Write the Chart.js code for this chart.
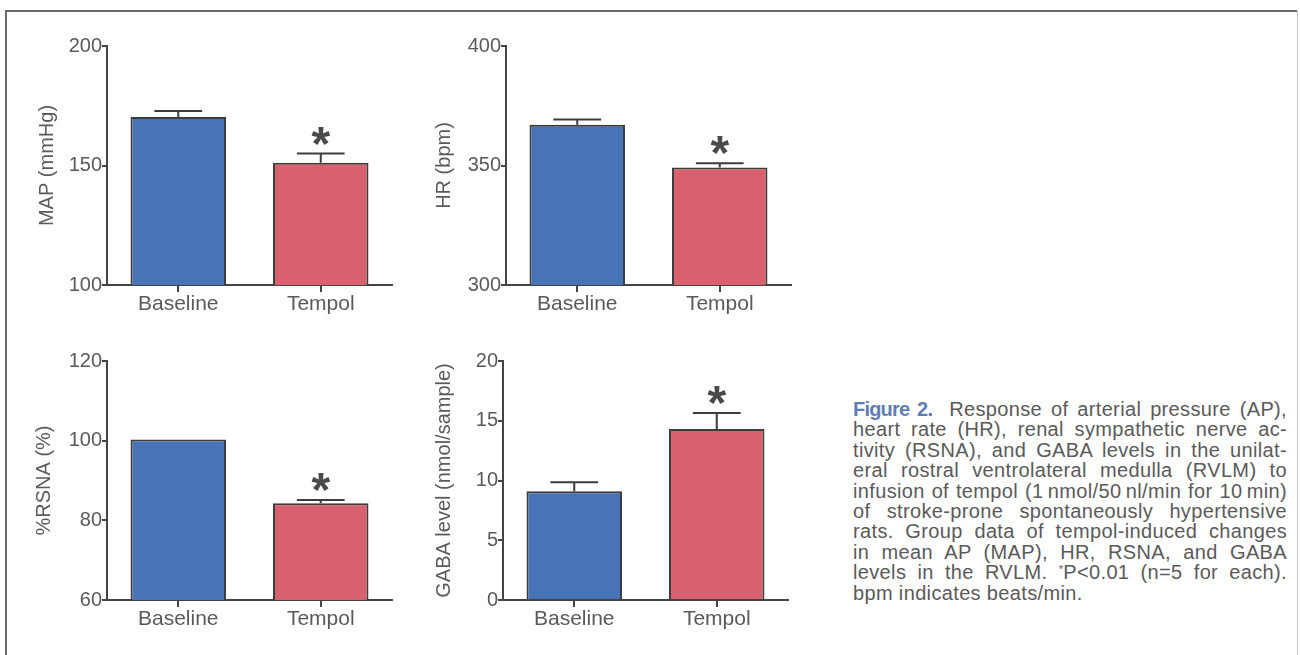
<!DOCTYPE html>
<html>
<head>
<meta charset="utf-8">
<script src="https://cdn.jsdelivr.net/npm/chart.js@4.4.1/dist/chart.umd.min.js"></script>
<style>
  body { margin: 0; background: #fff; }
  #page { position: relative; width: 1300px; height: 655px; overflow: hidden;
          font-family: Arial, "Liberation Sans", sans-serif; }
  .frame { position: absolute; background: #6a6a6a; }
  .panel { position: absolute; }
  #caption { position: absolute; left: 853px; top: 399px; width: 434px;
             font-size: 20px; letter-spacing: 0.35px; line-height: 20.4px; color: #5a5a5a; }
  #caption div { white-space: nowrap; text-align: justify; text-align-last: justify; }
  #caption div.last { text-align-last: left; }
  #caption b { color: #5f7db5; font-size: 20px; letter-spacing: -0.8px;
               font-weight: bold; margin-right: 8px; }
  #caption sup { font-size: 11px; vertical-align: 6px; line-height: 0; }
</style>
</head>
<body>
<div id="page">
  <div class="frame" style="left:5px;top:10px;width:1293px;height:2px"></div>
  <div class="frame" style="left:5px;top:10px;width:2px;height:645px"></div>
  <div class="frame" style="left:1297px;top:10px;width:1px;height:645px;background:#c8c8c8"></div>

  <div class="panel" id="p-map"><canvas id="c-map"></canvas></div>
  <div class="panel" id="p-hr"><canvas id="c-hr"></canvas></div>
  <div class="panel" id="p-rsna"><canvas id="c-rsna"></canvas></div>
  <div class="panel" id="p-gaba"><canvas id="c-gaba"></canvas></div>

  <div id="caption">
    <div><b>Figure 2.</b> Response of arterial pressure (AP),</div>
    <div>heart rate (HR), renal sympathetic nerve ac-</div>
    <div>tivity (RSNA), and GABA levels in the unilat-</div>
    <div>eral rostral ventrolateral medulla (RVLM) to</div>
    <div>infusion of tempol (1&#8201;nmol/50&#8201;nl/min for 10&#8201;min)</div>
    <div>of stroke-prone spontaneously hypertensive</div>
    <div>rats. Group data of tempol-induced changes</div>
    <div>in mean AP (MAP), HR, RSNA, and GABA</div>
    <div>levels in the RVLM. <sup>*</sup>P&lt;0.01 (n=5 for each).</div>
    <div class="last">bpm indicates beats/min.</div>
  </div>
</div>

<script>
// ── Дані ──────────────────────────────────────────────
const groups = ['Baseline', 'Tempol'];
const significant = [false, true];

const mapMean = [170.3, 151.2];
const mapErr  = [2.5, 3.8];
const mapTicks = [100, 200, 50];   // min, max, step

const hrMean = [367.0, 349.2];
const hrErr  = [2.2, 1.7];
const hrTicks = [300, 400, 50];

const rsnaMean = [100.3, 84.3];
const rsnaErr  = [0, 0.8];
const rsnaTicks = [60, 120, 20];

const gabaMean = [9.1, 14.3];
const gabaErr  = [0.75, 1.35];
const gabaTicks = [0, 20, 5];

// ── Стилі ─────────────────────────────────────────────
const axisColor = '#444';
const textColor = '#5a5a5a';
const barColors = ['#4874b6', '#d8616d'];
const fontFamily = 'Arial, "Liberation Sans", sans-serif';

// Положення канви і бажана зона графіка (пікселі сторінки)
const layouts = {
  map:  { box: [35, 26, 365, 304],  area: [107, 46, 392, 285] },
  hr:   { box: [432, 26, 368, 304], area: [506, 46, 791, 285] },
  rsna: { box: [32, 341, 368, 304], area: [107, 361, 392, 600] },
  gaba: { box: [432, 341, 368, 304], area: [503, 361, 788, 600] }
};

/* Плагін: планки похибки + зірочки над значущими стовпцями */
const errorBars = {
  id: 'errorBars',
  afterDatasetsDraw(chart, args, opts) {
    const { ctx } = chart;
    const y = chart.scales.y;
    const values = chart.data.datasets[0].data;
    ctx.save();
    ctx.strokeStyle = '#3c3c3c';
    ctx.lineWidth = 2;
    chart.getDatasetMeta(0).data.forEach((bar, i) => {
      const capY = y.getPixelForValue(values[i] + opts.errors[i]);
      if (opts.errors[i] > 0) {
        const half = bar.width * 0.25;
        ctx.beginPath();
        ctx.moveTo(bar.x, bar.y);
        ctx.lineTo(bar.x, capY);
        ctx.moveTo(bar.x - half, capY);
        ctx.lineTo(bar.x + half, capY);
        ctx.stroke();
      }
      if (opts.marks[i]) {
        ctx.fillStyle = '#4a4a4a';
        ctx.font = 'bold 48px ' + fontFamily;
        ctx.textAlign = 'center';
        ctx.textBaseline = 'alphabetic';
        ctx.fillText('*', bar.x, capY + 6);
      }
    });
    ctx.restore();
  }
};

function makeChart(key, title, mean, err, ticks) {
  const { box, area } = layouts[key];
  const panel = document.getElementById('p-' + key);
  panel.style.left = box[0] + 'px';
  panel.style.top = box[1] + 'px';
  panel.style.width = box[2] + 'px';
  panel.style.height = box[3] + 'px';

  const yWidth  = area[0] - box[0];
  const xHeight = box[1] + box[3] - area[3];

  return new Chart(document.getElementById('c-' + key), {
    type: 'bar',
    data: {
      labels: groups,
      datasets: [{
        data: mean,
        backgroundColor: barColors,
        borderColor: '#3c3c3c',
        borderWidth: 2,
        borderSkipped: 'bottom',
        categoryPercentage: 1,
        barPercentage: 0.67
      }]
    },
    plugins: [errorBars],
    options: {
      responsive: true,
      maintainAspectRatio: false,
      animation: false,
      layout: {
        padding: { left: 0, bottom: 0, top: area[1] - box[1], right: box[0] + box[2] - area[2] }
      },
      plugins: {
        legend: { display: false },
        tooltip: { enabled: false },
        errorBars: { errors: err, marks: significant }
      },
      scales: {
        x: {
          afterFit: s => { s.height = xHeight; },
          grid: { display: true, drawOnChartArea: false, offset: false,
                  tickLength: 7, color: axisColor, lineWidth: 2 },
          border: { display: true, color: axisColor, width: 2 },
          ticks: { color: textColor, padding: 0, font: { size: 21, family: fontFamily } }
        },
        y: {
          min: ticks[0],
          max: ticks[1],
          afterFit: s => { s.width = yWidth; },
          grid: { display: true, drawOnChartArea: false, tickLength: 5,
                  color: axisColor, lineWidth: 2 },
          border: { display: true, color: axisColor, width: 2 },
          ticks: { stepSize: ticks[2], color: textColor, padding: 0,
                   font: { size: 20, family: fontFamily } },
          title: { display: true, text: title, color: textColor, padding: 0,
                   font: { size: 20, family: fontFamily } }
        }
      }
    }
  });
}

makeChart('map',  'MAP (mmHg)', mapMean, mapErr, mapTicks);
makeChart('hr',   'HR (bpm)',   hrMean,  hrErr,  hrTicks);
makeChart('rsna', '%RSNA (%)',  rsnaMean, rsnaErr, rsnaTicks);
makeChart('gaba', 'GABA level (nmol/sample)', gabaMean, gabaErr, gabaTicks);
</script>
</body>
</html>
